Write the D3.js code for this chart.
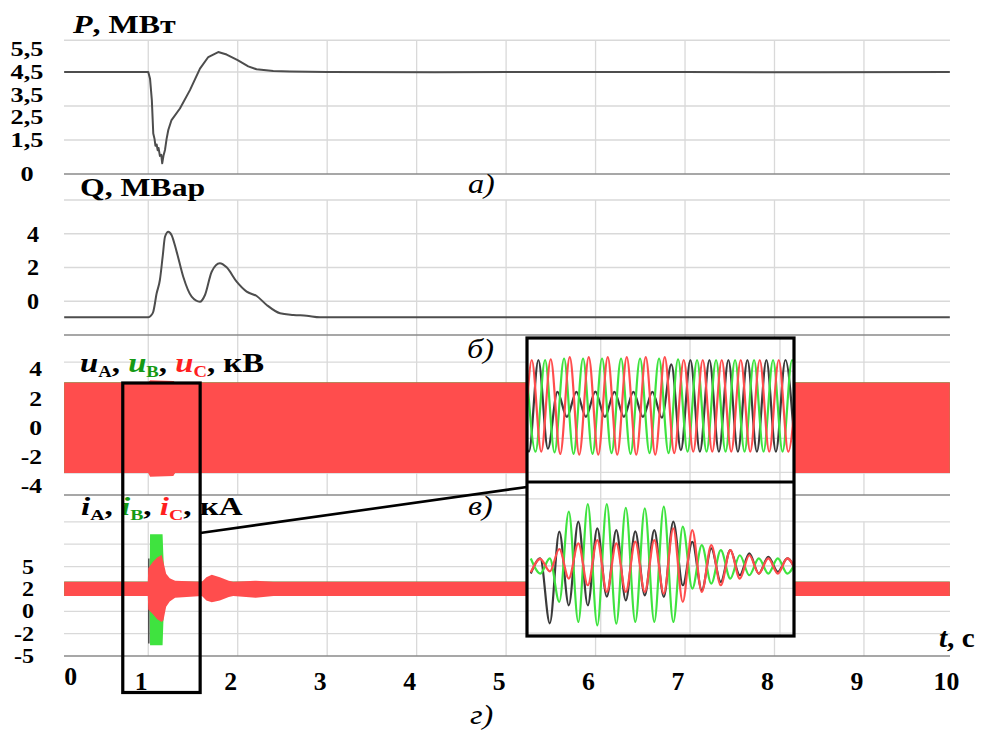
<!DOCTYPE html>
<html><head><meta charset="utf-8">
<script src="https://cdn.jsdelivr.net/npm/d3@7"></script>
<style>body{margin:0;background:#fff}svg{display:block}</style>
</head><body>
<svg id="c" width="983" height="735"></svg>
<script>
// ================= DATA =================
const timeTicks = [0,1,2,3,4,5,6,7,8,9,10];
const timeGrid = [1,2,3,4,5,6,7,8,9];

const pTicks = [5.5,4.5,3.5,2.5,1.5,0];
const pTickLabels = ["5,5","4,5","3,5","2,5","1,5","0"];
const qTicks = [4,2,0];
const qTickLabels = ["4","2","0"];
const uTicks = [4,2,0,-2,-4];
const uTickLabels = ["4","2","0","-2","-4"];
const iTicks = [5,2.5,0,-2.5,-5];
const iTickLabels = ["5","2","0","-2","-5"];

// Active power P, MW
const pTime   = [0.06,1.0,1.02,1.04,1.056,1.07,1.08,1.094,1.105,1.115,1.13,1.145,1.156,1.17,1.187,1.205,1.224,1.26,1.354,1.466,1.578,1.671,1.782,1.876,1.999,2.118,2.21,2.397,2.584,3.0,4.2,5.5,7.0,8.5,9.96];
const pValues = [4.5,4.5,4.2,3.26,1.79,1.55,1.25,1.3,1.05,1.15,0.8,0.85,0.47,0.8,1.06,1.55,1.94,2.38,2.89,3.7,4.65,5.16,5.38,5.27,5.02,4.75,4.62,4.54,4.52,4.5,4.49,4.5,4.5,4.49,4.5];

// Reactive power Q, MVAr
const qTime   = [0.06,1.0,1.03,1.056,1.094,1.13,1.161,1.187,1.224,1.26,1.317,1.391,1.485,1.578,1.634,1.709,1.8,1.876,1.988,2.1,2.212,2.324,2.473,2.622,2.77,2.92,4.0,6.0,8.0,9.96];
const qValues = [-0.95,-0.95,-0.85,-0.62,0.47,1.26,2.64,3.82,4.12,3.93,2.94,1.45,0.27,-0.03,0.37,1.75,2.25,2.01,1.16,0.57,0.31,-0.22,-0.71,-0.81,-0.86,-0.95,-0.95,-0.95,-0.95,-0.95];

// Phase voltage envelopes, kV
const uEnvTime = [0.06,1.0,1.02,1.28,1.3,9.96];
const uAUpper = [3.1,3.1,3.0,3.0,3.1,3.1];
const uALower = [-3.1,-3.1,-3.0,-3.0,-3.1,-3.1];
const uBUpper = [3.1,3.1,3.2,3.2,3.1,3.1];
const uBLower = [-3.1,-3.1,-3.2,-3.2,-3.1,-3.1];
const uCUpper = [3.1,3.1,3.25,3.2,3.1,3.1];
const uCLower = [-3.1,-3.1,-3.35,-3.3,-3.1,-3.1];

// Phase current envelopes, kA
const iATime  = [0.06,0.998,0.999,1.014,1.015,9.96];
const iAUpper = [3.3,3.3,5.9,5.9,3.3,3.3];
const iALower = [1.7,1.7,-3.6,-3.6,1.7,1.7];
const iBTime  = [0.06,1.015,1.02,1.16,1.168,1.175,1.2,1.23,9.96];
const iBUpper = [3.3,3.3,8.6,8.6,6.5,4.8,3.9,3.3,3.3];
const iBLower = [1.7,1.7,-3.8,-3.8,-1.5,0.3,1.2,1.7,1.7];
const iCTime  = [0.06,0.995,1.0,1.05,1.1,1.15,1.17,1.2,1.24,1.3,1.6,1.65,1.71,1.8,1.9,1.95,2.2,2.4,9.96];
const iCUpper = [3.3,3.3,4.8,5.5,6.0,6.3,5.5,4.2,3.7,3.4,3.3,3.8,4.07,3.8,3.4,3.3,3.4,3.3,3.3];
const iCLower = [1.7,1.7,0.2,-0.3,-0.9,-1.2,-1.0,0.5,1.1,1.5,1.7,1.2,1.0,1.2,1.6,1.7,1.5,1.7,1.7];

// Zoomed window (s) shown in the insets
const zoomWindow = [0.715,1.58];
const insetWindow = [0.97,1.25];
const halfPeriod = 0.01; // 50 Hz, time between successive extrema

// Inset: voltage extrema (kV), successive half-cycles
const insetUStart = {A:0.962, B:0.969, C:0.955};
const insetUA = [3.1,-3.1,3.1,-2.9,0.95,-0.75,0.95,-0.74,0.96,-0.75,0.95,-0.74,0.95,-0.75,0.95,-0.8,2.8,-3.0,3.1,-3.1,3.1,-3.1,3.1,-3.1,3.1,-3.1,3.1,-3.1,3.1,-3.1];
const insetUB = [3.1,-3.1,3.1,-3.15,3.2,-3.25,3.2,-3.25,3.2,-3.2,3.2,-3.25,3.2,-3.2,3.2,-3.2,3.15,-3.1,3.1,-3.1,3.1,-3.1,3.1,-3.1,3.1,-3.1,3.1,-3.1,3.1,-3.1];
const insetUC = [3.1,-3.1,3.1,-3.1,3.15,-3.25,3.3,-3.3,3.3,-3.3,3.3,-3.3,3.3,-3.3,3.3,-3.3,3.3,-3.2,3.1,-3.1,3.1,-3.1,3.1,-3.1,3.1,-3.1,3.1,-3.1,3.1,-3.1,3.1];

// Inset: current extrema (kA)
const insetIStart = {A:0.974, B:0.974, C:0.974};
const insetIA = [-0.84,0.84,-6.4,3.83,-4.39,4.95,-4.39,4.2,-3.42,4.0,-3.83,3.86,-3.27,4.0,-3.45,4.95,-2.15,2.7,-2.7,1.96,-1.77,1.77,-1.03,1.4,-0.84,1.03,-0.65,0.84,-0.8];
const insetIB = [0.84,-0.84,0.84,-4.0,6.07,-6.25,6.9,-6.63,6.9,-6.44,6.5,-6.25,6.44,-6.25,6.63,-6.25,4.39,-2.52,2.33,-1.96,1.77,-1.4,1.2,-1.03,0.84,-0.84,0.84,-0.84,0.8];
const insetIC = [-0.7,0.8,-0.6,1.9,-1.4,2.52,-2.15,2.89,-2.89,2.52,-2.89,2.71,-2.89,2.89,-3.08,4.2,-4.0,4.0,-2.89,2.33,-2.15,1.77,-1.4,1.2,-0.84,0.84,-0.84,0.84,-0.8];

const phases = ["A","B","C"];

// ================= STYLE / LAYOUT =================
const FONT = '"Liberation Serif","Times New Roman",serif';
const GRID = "#d9d9d9", AXIS = "#8a8a8a", LINE = "#4d4d4d";
const PH_COL = {A:"#3a3a3a", B:"#3fe33f", C:"#ff4d4d"};
const TXT_COL = {A:"#000", B:"#159a15", C:"#ff1f1f"};
const plotL = 64, plotR = 950;

const svg = d3.select("#c");
svg.append("rect").attr("width",983).attr("height",735).attr("fill","#fff");
const defs = svg.append("defs");
defs.append("clipPath").attr("id","plotClip").append("rect")
  .attr("x",plotL).attr("y",0).attr("width",plotR-plotL).attr("height",735);

const x = d3.scaleLinear().domain([0,10]).range([58.8,953.4]);

const yP = d3.scaleLinear().domain([0,6]).range([174,38]);
const yQ = d3.scaleLinear().domain([-2,6]).range([335,200]);
const yU = d3.scaleLinear().domain([-4.6,6.35]).range([495,335]);
const yI = d3.scaleLinear().domain([-5,13]).range([656,495]);

const panels = [
  {y:yP, grid:[1.5,3,4.5,5.9], base:0, top:5.9, ticks:pTicks, labels:pTickLabels, lx:27, anchor:"middle", fs:21, sx:1.25},
  {y:yQ, grid:[0,2,4,6], base:-2, top:6, ticks:qTicks, labels:qTickLabels, lx:33, anchor:"middle", fs:23, sx:1.05},
  {y:yU, grid:[4.5,-3.1], base:-4.6, top:6.35, ticks:uTicks, labels:uTickLabels, lx:42, anchor:"end", fs:21, sx:1.22},
  {y:yI, grid:[-2.5,0,2.5,5,7.5,10], base:-5, top:10, ticks:iTicks, labels:iTickLabels, lx:34, anchor:"end", fs:21, sx:1.15}
];

function label(parent, X, Y, o) {
  return parent.append("text")
    .attr("transform", `translate(${X},${Y}) scale(${o.sx||1},1)`)
    .attr("text-anchor", o.anchor||"start")
    .attr("font-family", FONT).attr("font-size", o.size)
    .attr("font-weight", o.bold===false ? "normal" : "bold")
    .attr("font-style", o.italic ? "italic" : "normal")
    .attr("fill", o.fill||"#000");
}

// grids
const gGrid = svg.append("g");
panels.forEach(p => {
  timeGrid.forEach(t => {
    gGrid.append("line").attr("x1",x(t)).attr("x2",x(t))
      .attr("y1",p.y(p.top)).attr("y2",p.y(p.base))
      .attr("stroke",GRID).attr("stroke-width",1.3);
  });
  p.grid.forEach(v => {
    gGrid.append("line").attr("x1",plotL).attr("x2",plotR)
      .attr("y1",p.y(v)).attr("y2",p.y(v))
      .attr("stroke",GRID).attr("stroke-width",1.3);
  });
});
panels.forEach(p => {
  svg.append("line").attr("x1",plotL).attr("x2",plotR)
    .attr("y1",p.y(p.base)).attr("y2",p.y(p.base))
    .attr("stroke",AXIS).attr("stroke-width",1.6);
  p.ticks.forEach((v,i) => {
    label(svg, p.lx, p.y(v) + p.fs*0.34, {size:p.fs, sx:p.sx, anchor:p.anchor}).text(p.labels[i]);
  });
});

// ---- data marks ----
const gData = svg.append("g").attr("clip-path","url(#plotClip)");

const pLine = d3.line().x(d=>x(d[0])).y(d=>yP(d[1]));
gData.append("path").attr("d", pLine(d3.zip(pTime,pValues)))
  .attr("fill","none").attr("stroke",LINE).attr("stroke-width",2).attr("stroke-linejoin","round");

const qLine = d3.line().x(d=>x(d[0])).y(d=>yQ(d[1])).curve(d3.curveMonotoneX);
gData.append("path").attr("d", qLine(d3.zip(qTime,qValues)))
  .attr("fill","none").attr("stroke",LINE).attr("stroke-width",2);

function env(times, hi, lo) { return times.map((t,i)=>({t, hi:hi[i], lo:lo[i]})); }
const uArea = d3.area().x(d=>x(d.t)).y0(d=>yU(d.lo)).y1(d=>yU(d.hi));
const iArea = d3.area().x(d=>x(d.t)).y0(d=>yI(d.lo)).y1(d=>yI(d.hi));
const uEnv = {A:env(uEnvTime,uAUpper,uALower), B:env(uEnvTime,uBUpper,uBLower), C:env(uEnvTime,uCUpper,uCLower)};
const iEnv = {A:env(iATime,iAUpper,iALower), B:env(iBTime,iBUpper,iBLower), C:env(iCTime,iCUpper,iCLower)};
phases.forEach(ph => {
  gData.append("path").attr("d", uArea(uEnv[ph])).attr("fill", PH_COL[ph]);
});
phases.forEach(ph => {
  gData.append("path").attr("d", iArea(iEnv[ph])).attr("fill", PH_COL[ph]);
});

// ---- titles & legends ----
const tP = label(svg, 73, 33, {size:25, sx:1.28});
tP.append("tspan").attr("font-style","italic").text("P");
tP.append("tspan").text(", МВт");
label(svg, 80, 196, {size:25, sx:1.27}).text("Q, МВар");

const uLeg = label(svg, 80, 372, {size:28, sx:1.17});
const iLeg = label(svg, 81, 515, {size:25, sx:1.32});
[[uLeg,"u",16],[iLeg,"i",15]].forEach(([leg,sym,fsub]) => {
  phases.forEach(ph => {
    leg.append("tspan").attr("font-style","italic").attr("fill",TXT_COL[ph]).text(sym);
    leg.append("tspan").attr("font-size",fsub).attr("dy",5).attr("fill",TXT_COL[ph]).text(ph);
    leg.append("tspan").attr("dy",-5).attr("fill","#000").text(", ");
  });
});
uLeg.append("tspan").text("кВ");
iLeg.append("tspan").text("кА");

const panelLetters = [["а)",468,193],["б)",467,358],["в)",468,515],["г)",470,724]];
panelLetters.forEach(([s,X,Y]) => label(svg, X, Y, {size:28, sx:1.15, italic:true, bold:false}).text(s));

// x tick labels
timeTicks.forEach(t => {
  label(svg, t===0 ? x(t)+12 : x(t)-7, t===0 ? 685 : 690, {size:25, sx:1.03, anchor:"middle"}).text(String(t));
});
const tl = label(svg, 939, 647, {size:27, sx:1.08});
tl.append("tspan").attr("font-style","italic").text("t");
tl.append("tspan").text(", с");

// ---- zoom window & connector ----
svg.append("rect").attr("x",x(zoomWindow[0])).attr("y",383)
  .attr("width",x(zoomWindow[1])-x(zoomWindow[0])).attr("height",692.5-383)
  .attr("fill","none").attr("stroke","#000").attr("stroke-width",3.2);
svg.append("line").attr("x1",x(zoomWindow[1])).attr("y1",533).attr("x2",527).attr("y2",487)
  .attr("stroke","#000").attr("stroke-width",2.6);

// ---- insets ----
const inL = 527, inR = 794, inT = 338, inM = 482, inB = 636;
const ix = d3.scaleLinear().domain(insetWindow).range([inL,793]);
const iuY = d3.scaleLinear().domain([-3.1,3.1]).range([451.7,360]);
const iiY = d3.scaleLinear().domain([-7.5,7.5]).range([633.2,498.8]);
const insetVGrid = [1.0476,1.1416,1.2363];
const insetUGrid = [2.35,-2.2,-4.5];
const insetIGrid = [-7.5,-5,-2.5,0,2.5,5,7.5];

svg.append("rect").attr("x",inL).attr("y",inT).attr("width",inR-inL).attr("height",inB-inT).attr("fill","#fff");
defs.append("clipPath").attr("id","clipU").append("rect").attr("x",inL).attr("y",inT).attr("width",inR-inL).attr("height",inM-inT);
defs.append("clipPath").attr("id","clipI").append("rect").attr("x",inL).attr("y",inM).attr("width",inR-inL).attr("height",inB-inM);

const gU = svg.append("g").attr("clip-path","url(#clipU)");
const gI = svg.append("g").attr("clip-path","url(#clipI)");
[[gU,inT,inM,insetUGrid,iuY],[gI,inM,inB,insetIGrid,iiY]].forEach(([g,t0,t1,hg,ys]) => {
  insetVGrid.forEach(t => g.append("line").attr("x1",ix(t)).attr("x2",ix(t)).attr("y1",t0).attr("y2",t1)
    .attr("stroke",GRID).attr("stroke-width",1.3));
  hg.forEach(v => g.append("line").attr("x1",inL).attr("x2",inR).attr("y1",ys(v)).attr("y2",ys(v))
    .attr("stroke",GRID).attr("stroke-width",1.3));
});

const insetU = {A:insetUA, B:insetUB, C:insetUC};
const insetI = {A:insetIA, B:insetIB, C:insetIC};
const uWave = d3.line().x(d=>ix(d.t)).y(d=>iuY(d.v)).curve(d3.curveMonotoneX);
const iWave = d3.line().x(d=>ix(d.t)).y(d=>iiY(d.v)).curve(d3.curveMonotoneX);
phases.forEach(ph => {
  const du = insetU[ph].map((v,k)=>({t:insetUStart[ph]+k*halfPeriod, v}));
  gU.append("path").attr("d",uWave(du)).attr("fill","none").attr("stroke",PH_COL[ph]).attr("stroke-width",2.2);
  const di = insetI[ph].map((v,k)=>({t:insetIStart[ph]+k*halfPeriod, v}));
  gI.append("path").attr("d",iWave(di)).attr("fill","none").attr("stroke",PH_COL[ph]).attr("stroke-width",2.2);
});

svg.append("rect").attr("x",inL).attr("y",inT).attr("width",inR-inL).attr("height",inB-inT)
  .attr("fill","none").attr("stroke","#000").attr("stroke-width",3.2);
svg.append("line").attr("x1",inL).attr("x2",inR).attr("y1",inM).attr("y2",inM)
  .attr("stroke","#000").attr("stroke-width",3);
</script>
</body></html>
